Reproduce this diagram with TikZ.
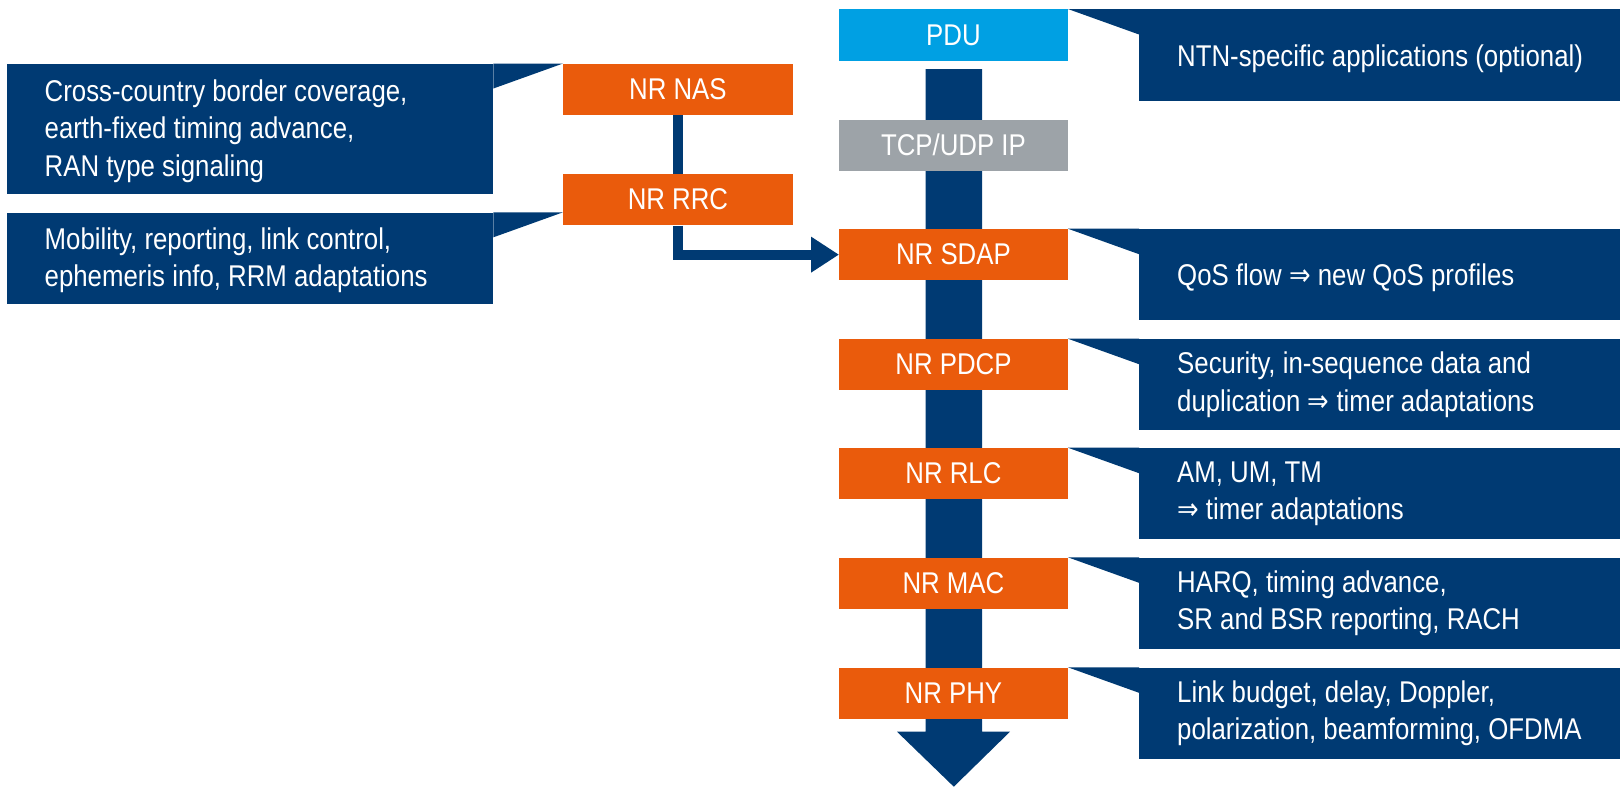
\documentclass[tikz,border=0pt]{standalone}
\usepackage{fontspec}
\setmainfont{Liberation Sans}[FakeStretch=0.86]
\newfontfamily\arrowfont{DejaVu Sans}[FakeStretch=0.86]
\newcommand{\implarrow}{{\arrowfont ⇒}}
\usetikzlibrary{arrows.meta}
\definecolor{navy}{HTML}{003A73}
\definecolor{layerorange}{HTML}{EA5B0C}
\definecolor{pducyan}{HTML}{00A0E3}
\definecolor{ipgray}{HTML}{9DA3A8}
\tikzset{
  txt/.style={text=white, font=\fontsize{30}{37.5}\selectfont},
  layerbox/.style={txt, fill=layerorange, anchor=north west, inner sep=0pt,
    minimum width=228.5pt, minimum height=51.5pt},
  notebox/.style={fill=navy, anchor=north west, inner sep=0pt,
    minimum width=#1, minimum height=91.5pt},
  notetext/.style={txt, anchor=west, align=left, inner sep=0pt},
  link/.style={draw=navy, line width=10pt},
}
\begin{document}
\begin{tikzpicture}[x=1pt, y=-1pt]
\useasboundingbox (0,0) rectangle (1620,787);

% main downward data-flow arrow behind the protocol stack
\fill[navy] (925.6,69) -- (982,69) -- (982,731.7) -- (1010,731.7)
  -- (953.8,786.7) -- (897,731.7) -- (925.6,731.7) -- cycle;

% protocol stack
\node[layerbox, fill=pducyan] (pdu)  at (839,9)     {PDU};
\node[layerbox, fill=ipgray]  (ip)   at (839,119.3) {TCP/UDP IP};
\node[layerbox] (sdap) at (839,228.7) {NR SDAP};
\node[layerbox] (pdcp) at (839,338.7) {NR PDCP};
\node[layerbox] (rlc)  at (839,447.7) {NR RLC};
\node[layerbox] (mac)  at (839,557.3) {NR MAC};
\node[layerbox] (phy)  at (839,667.3) {NR PHY};

% control plane
\node[layerbox, minimum width=229.5pt] (nas) at (563,63.5)  {NR NAS};
\node[layerbox, minimum width=229.5pt] (rrc) at (563,173.7) {NR RRC};
\draw[link] (nas.south) -- (rrc.north);
\draw[link, -{Triangle[length=28pt,width=34pt]}] (rrc.south) |- (sdap.west);

% left notes
\node[notebox=486pt, minimum height=130.5pt] (nnas) at (7,63.5) {};
\fill[navy] (nnas.north east) -- (nas.north west) -- ([yshift=-25pt]nnas.north east) -- cycle;
\node[notetext] (tnas) at ([xshift=37.5pt,yshift=-2pt]nnas.west)
  {Cross-country border coverage,\\earth-fixed timing advance,\\RAN type signaling};
\node[notebox=486pt] (nrrc) at (7,212.3) {};
\fill[navy] (nrrc.north east) -- ([yshift=-38.6pt]rrc.north west) -- ([yshift=-25pt]nrrc.north east) -- cycle;
\node[notetext] (trrc) at ([xshift=37.5pt,yshift=-2pt]nrrc.west)
  {Mobility, reporting, link control,\\ephemeris info, RRM adaptations};

% right notes
\foreach \l/\y in {pdu/9, sdap/228.7, pdcp/338.7, rlc/447.7, mac/557.3, phy/667.3}{
  \node[notebox=481pt] (n\l) at (1139,\y) {};
  \fill[navy] (\l.north east) -- (n\l.north west) -- ([yshift=-25.5pt]n\l.north west) -- cycle;
}
\node[notetext] (tpdu)  at ([xshift=38pt,yshift=-4pt]npdu.west) {NTN-specific applications (optional)};
\node[notetext] (tsdap) at ([xshift=38pt,yshift=-3pt]nsdap.west) {QoS flow \implarrow{} new QoS profiles};
\node[notetext] (tpdcp) at ([xshift=38pt]npdcp.west)
  {Security, in-sequence data and\\duplication \implarrow{} timer adaptations};
\node[notetext] (trlc)  at ([xshift=38pt]nrlc.west) {AM, UM, TM\\\implarrow{} timer adaptations};
\node[notetext] (tmac)  at ([xshift=38pt]nmac.west)
  {HARQ, timing advance,\\SR and BSR reporting, RACH};
\node[notetext] (tphy)  at ([xshift=38pt]nphy.west)
  {Link budget, delay, Doppler,\\polarization, beamforming, OFDMA};
\end{tikzpicture}
\end{document}
